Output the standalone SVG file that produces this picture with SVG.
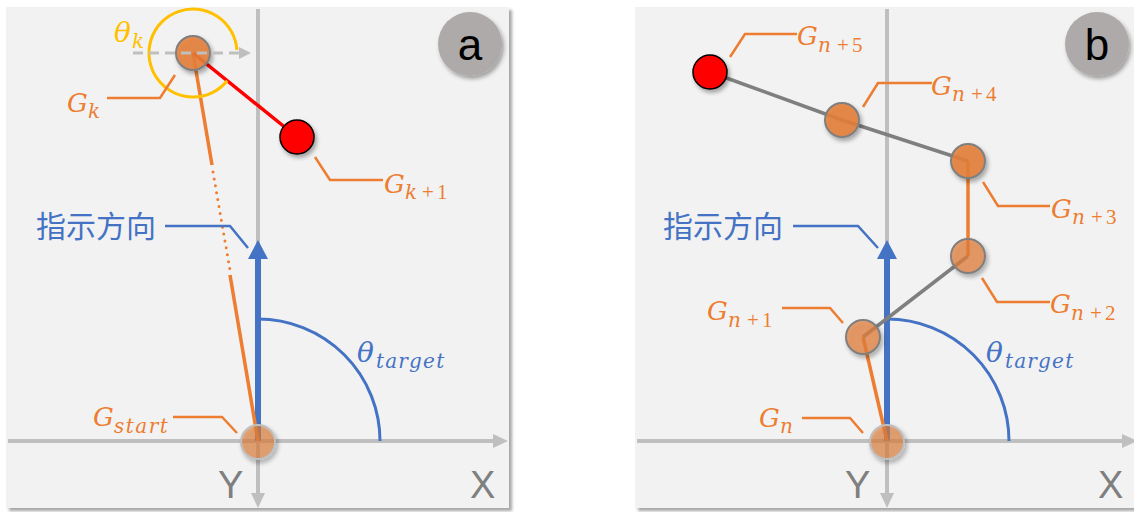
<svg xmlns="http://www.w3.org/2000/svg" width="1134" height="512" viewBox="0 0 1134 512">
<defs>
<filter id="psh" x="-5%" y="-5%" width="110%" height="110%"><feDropShadow dx="3" dy="3" stdDeviation="1.5" flood-color="#000" flood-opacity="0.35"/></filter>
<filter id="sh" x="-50%" y="-50%" width="200%" height="200%"><feDropShadow dx="2" dy="3" stdDeviation="2" flood-color="#000" flood-opacity="0.35"/></filter>
<marker id="ga" markerUnits="userSpaceOnUse" markerWidth="16" markerHeight="14" refX="2" refY="7" orient="auto"><path d="M0,0 L15,7 L0,14 z" fill="#bfbfbf"/></marker>
<marker id="gs" markerUnits="userSpaceOnUse" markerWidth="14" markerHeight="12" refX="1" refY="6" orient="auto"><path d="M0,0 L12,6 L0,12 z" fill="#bfbfbf"/></marker>
<marker id="ba" markerUnits="userSpaceOnUse" markerWidth="20" markerHeight="22" refX="1" refY="10" orient="auto"><path d="M0,0 L19,10 L0,20 z" fill="#4472c4"/></marker>
<style>
.panel{fill:#f2f2f2}
.axis{stroke:#bfbfbf;stroke-width:4;fill:none}
.ld{stroke:#ed7d31;stroke-width:2.5;fill:none}
.bld{stroke:#4472c4;stroke-width:2.5;fill:none}
.ol{stroke:#ed7d31;stroke-width:3.5;fill:none}
.gl{stroke:#7f7f7f;stroke-width:3.5;fill:none}
.blue{stroke:#4472c4;stroke-width:6;fill:none}
.arc{stroke:#4472c4;stroke-width:3;fill:none}
.m{font-family:"DejaVu Serif",serif;font-style:italic;font-size:26px}
.t{font-family:"DejaVu Serif",serif;font-style:italic;font-size:28px}
.s{font-size:20px}
.u{font-family:"Liberation Serif",serif;font-style:normal;font-size:21px}
.or{fill:#ed7d31}
.bl{fill:#4472c4}
.gd{fill:#ffc000}
.cjk{font-family:"Noto Sans CJK SC","Noto Sans",sans-serif;font-size:30px;fill:#4472c4}
.ax{font-family:"Liberation Sans",Arial,sans-serif;font-size:38px;fill:#7f7f7f}
.bd{font-family:"Liberation Sans",Arial,sans-serif;font-size:44px;fill:#000;text-anchor:middle}
.node{fill:#e5803a;fill-opacity:0.88;stroke:#7f7f7f;stroke-width:2}
.node2{fill:#e5803a;fill-opacity:0.7;stroke:#7f7f7f;stroke-width:2}
.org{fill:#e0803e;fill-opacity:0.62;stroke:#bfbfbf;stroke-width:2}
.red{fill:#ff0000;stroke:#000;stroke-width:1.5}
.badge{fill:#aeaaaa}
</style>
</defs>

<!-- Panel a -->
<g id="panel-a">
<rect class="panel" x="6" y="7" width="503" height="501" filter="url(#psh)"/>
<line class="axis" x1="8" y1="441" x2="495" y2="441" marker-end="url(#ga)"/>
<line class="axis" x1="258" y1="9" x2="258" y2="495" marker-end="url(#ga)"/>
<text class="ax" x="218" y="498">Y</text>
<text class="ax" x="470" y="498">X</text>
</g>

<g id="connectors-a">
<line class="blue" x1="258" y1="441" x2="258" y2="258" marker-end="url(#ba)"/>
<path class="arc" d="M258,319 A122,122 0 0 1 380,441"/>
<line class="ol" x1="193" y1="53" x2="212" y2="165"/>
<line x1="213" y1="172" x2="230" y2="270" stroke="#ed7d31" stroke-width="3" stroke-linecap="round" stroke-dasharray="0 7"/>
<line class="ol" x1="230" y1="275" x2="258" y2="441"/>
<line x1="193" y1="53" x2="297" y2="137" stroke="#ff0000" stroke-width="3.5"/>
<path d="M236.9,50 A44,44 0 1 0 227.2,80.7" fill="none" stroke="#ffc000" stroke-width="3"/>
<polyline class="ld" points="107,98 160,98 175,75"/>
<polyline class="ld" points="315,157 330,180 383,180"/>
<polyline class="ld" points="173,417 222,417 237,433"/>
<polyline class="bld" points="165,226 230,226 248,248"/>
</g>

<g id="node-gstart">
<circle class="org" cx="258" cy="442" r="17" filter="url(#sh)"/>
<text class="m or" x="93" y="426">G<tspan class="s" x="114" y="433" letter-spacing="1.5">start</tspan></text>
</g>
<g id="node-gk">
<circle class="node" cx="193" cy="53" r="17" filter="url(#sh)"/>
<line x1="133" y1="53" x2="240" y2="53" stroke="#bfbfbf" stroke-width="3" stroke-dasharray="10 6" marker-end="url(#gs)"/>
<text class="m or" x="67" y="112">G<tspan class="s" x="88" y="118">k</tspan></text>
<text class="t gd" x="114" y="42">θ<tspan class="s" x="132" y="48">k</tspan></text>
</g>
<g id="node-gk1">
<circle class="red" cx="297" cy="137" r="17" filter="url(#sh)"/>
<text class="m or" x="384" y="193">G<tspan class="s" x="405" y="199">k</tspan><tspan class="u" x="422" y="199">+</tspan><tspan class="u" x="437" y="199">1</tspan></text>
</g>
<g id="label-a">
<text class="cjk" x="36" y="237">指示方向</text>
<text class="t bl" x="357" y="362">θ<tspan class="s" x="376" y="368" letter-spacing="1.2">target</tspan></text>
</g>
<g id="badge-a">
<circle class="badge" cx="470" cy="44" r="32" filter="url(#sh)"/>
<text class="bd" x="470" y="60">a</text>
</g>

<!-- Panel b -->
<g id="panel-b">
<rect class="panel" x="635" y="7" width="503" height="501" filter="url(#psh)"/>
<line class="axis" x1="637" y1="441" x2="1124" y2="441" marker-end="url(#ga)"/>
<line class="axis" x1="887" y1="9" x2="887" y2="495" marker-end="url(#ga)"/>
<text class="ax" x="845" y="498">Y</text>
<text class="ax" x="1098" y="498">X</text>
</g>

<g id="connectors-b">
<line class="blue" x1="887" y1="441" x2="887" y2="258" marker-end="url(#ba)"/>
<path class="arc" d="M887,319 A122,122 0 0 1 1009,441"/>
<line class="ol" x1="887" y1="441" x2="863" y2="337"/>
<line class="gl" x1="863" y1="337" x2="968" y2="256"/>
<line class="ol" x1="968" y1="256" x2="968" y2="161"/>
<polyline class="gl" points="968,161 842,120 710,72"/>
<polyline class="ld" points="730,57 745,34 797,34"/>
<polyline class="ld" points="863,107 878,83 932,83"/>
<polyline class="ld" points="983,182 998,206 1050,206"/>
<polyline class="ld" points="982,278 997,302 1050,302"/>
<polyline class="ld" points="782,308 830,308 843,323"/>
<polyline class="ld" points="802,418 850,418 863,433"/>
<polyline class="bld" points="793,226 858,226 878,248"/>
</g>

<g id="node-gn">
<circle class="org" cx="887" cy="442" r="17" filter="url(#sh)"/>
<text class="m or" x="759" y="427">G<tspan class="s" x="780" y="433">n</tspan></text>
</g>
<g id="node-gn1">
<circle class="node2" cx="863" cy="337" r="17" filter="url(#sh)"/>
<text class="m or" x="707" y="320">G<tspan class="s" x="728" y="327">n</tspan><tspan class="u" x="747" y="327">+</tspan><tspan class="u" x="762" y="327">1</tspan></text>
</g>
<g id="node-gn2">
<circle class="node2" cx="968" cy="256" r="17" filter="url(#sh)"/>
<text class="m or" x="1050" y="313">G<tspan class="s" x="1071" y="320">n</tspan><tspan class="u" x="1090" y="320">+</tspan><tspan class="u" x="1105" y="320">2</tspan></text>
</g>
<g id="node-gn3">
<circle class="node" cx="968" cy="161" r="17" filter="url(#sh)"/>
<text class="m or" x="1051" y="218">G<tspan class="s" x="1072" y="224">n</tspan><tspan class="u" x="1091" y="224">+</tspan><tspan class="u" x="1106" y="224">3</tspan></text>
</g>
<g id="node-gn4">
<circle class="node" cx="842" cy="120" r="17" filter="url(#sh)"/>
<text class="m or" x="931" y="95">G<tspan class="s" x="952" y="101">n</tspan><tspan class="u" x="971" y="101">+</tspan><tspan class="u" x="986" y="101">4</tspan></text>
</g>
<g id="node-gn5">
<circle class="red" cx="710" cy="72" r="17" filter="url(#sh)"/>
<text class="m or" x="797" y="45">G<tspan class="s" x="818" y="52">n</tspan><tspan class="u" x="837" y="52">+</tspan><tspan class="u" x="852" y="52">5</tspan></text>
</g>
<g id="label-b">
<text class="cjk" x="663" y="237">指示方向</text>
<text class="t bl" x="986" y="362">θ<tspan class="s" x="1005" y="368" letter-spacing="1.2">target</tspan></text>
</g>
<g id="badge-b">
<circle class="badge" cx="1097" cy="44" r="32" filter="url(#sh)"/>
<text class="bd" x="1097" y="60">b</text>
</g>
</svg>
